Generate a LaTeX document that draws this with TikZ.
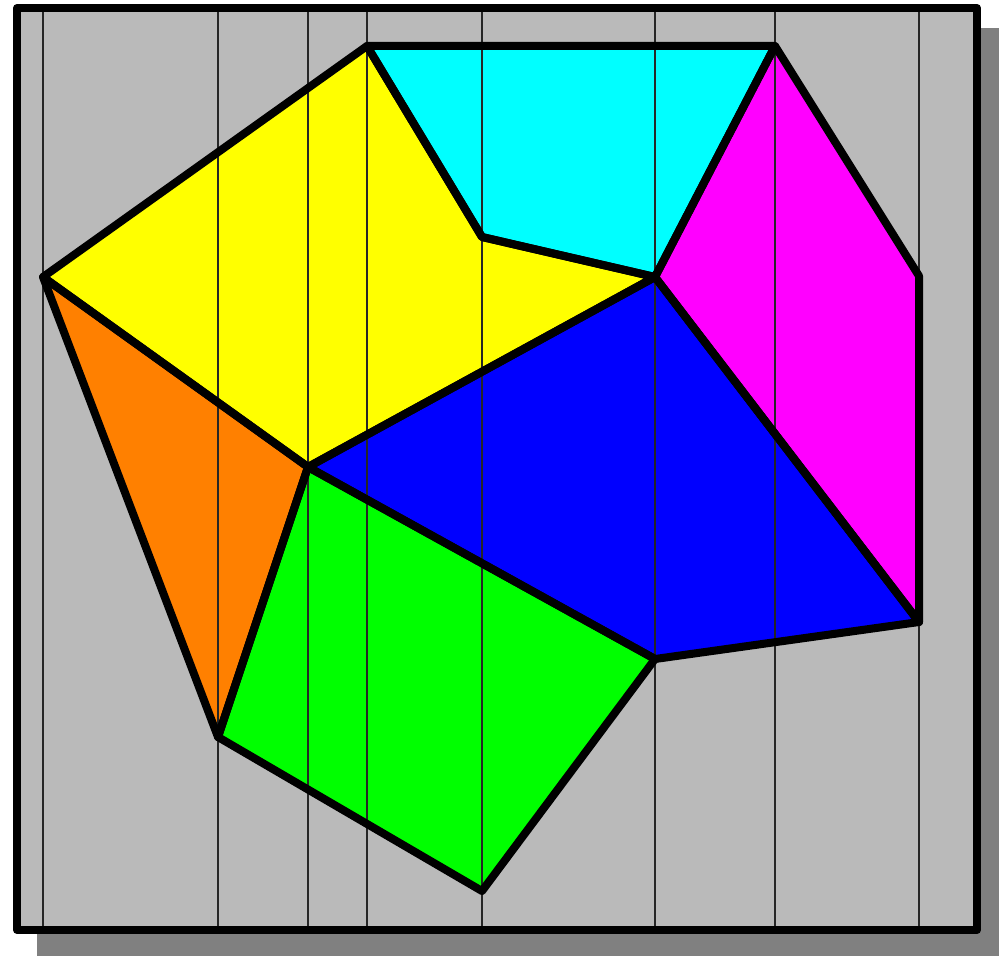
\documentclass[tikz,border=0pt]{standalone}
\definecolor{pyellow}{RGB}{255,255,0}
\definecolor{pcyan}{RGB}{0,255,255}
\definecolor{pmagenta}{RGB}{255,0,255}
\definecolor{pblue}{RGB}{0,0,255}
\definecolor{pgreen}{RGB}{0,255,0}
\definecolor{porange}{RGB}{255,128,0}
\definecolor{pgray}{RGB}{186,186,186}
\definecolor{pshadow}{RGB}{128,128,128}
\begin{document}
\begin{tikzpicture}[x=0.02cm,y=-0.02cm,
  edge/.style={line width=8*0.02cm, line join=round, draw=black},
  vline/.style={line width=0.022cm, draw=black!85}]
\useasboundingbox (0,0) rectangle (999,956);
% shadow and frame
\fill[pshadow] (37,28) rectangle (999,956);
\fill[pgray] (17,8) rectangle (977,930);
% vertices
\coordinate (A) at (43,277);
\coordinate (B) at (367,46);
\coordinate (C) at (775,46);
\coordinate (D) at (919,276);
\coordinate (E) at (919,622);
\coordinate (F) at (655,659);
\coordinate (G) at (482,891);
\coordinate (H) at (218,737);
\coordinate (I) at (308,467);
\coordinate (J) at (655,277);
\coordinate (K) at (482,237);
% fills
\fill[pyellow] (A) -- (B) -- (K) -- (J) -- (I) -- cycle;
\fill[pcyan] (B) -- (C) -- (J) -- (K) -- cycle;
\fill[pmagenta] (C) -- (D) -- (E) -- (J) -- cycle;
\fill[pblue] (J) -- (E) -- (F) -- (I) -- cycle;
\fill[pgreen] (I) -- (F) -- (G) -- (H) -- cycle;
\fill[porange] (A) -- (I) -- (H) -- cycle;
% vertical lines
\foreach \xx in {43,218,308,367,482,655,775,919}
  \draw[vline] (\xx,8) -- (\xx,930);
% outlines
\draw[edge] (A) -- (B) -- (K) -- (J) -- (I) -- cycle;
\draw[edge] (B) -- (C) -- (J) -- (K) -- cycle;
\draw[edge] (C) -- (D) -- (E) -- (J) -- cycle;
\draw[edge] (J) -- (E) -- (F) -- (I) -- cycle;
\draw[edge] (I) -- (F) -- (G) -- (H) -- cycle;
\draw[edge] (A) -- (I) -- (H) -- cycle;
% frame border
\draw[edge] (17,8) rectangle (977,930);
\end{tikzpicture}
\end{document}
